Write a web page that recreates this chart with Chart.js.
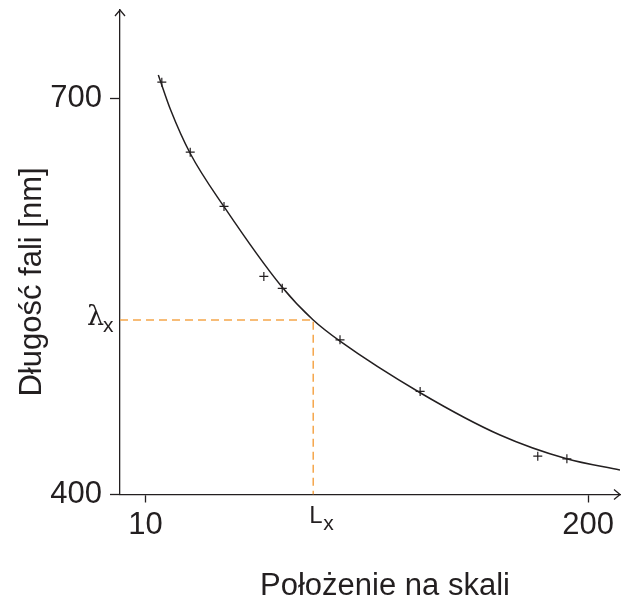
<!DOCTYPE html>
<html>
<head>
<meta charset="utf-8">
<script src="https://cdn.jsdelivr.net/npm/chart.js@4.4.0/dist/chart.umd.min.js"></script>
<style>
html, body { margin: 0; padding: 0; background: #fff; }
#wrap { width: 629px; height: 598px; }
</style>
</head>
<body>
<div id="wrap"><canvas id="chart"></canvas></div>
<script>
// values
const xTicks = [10, 200];
const yTicks = [400, 700];
const xMin = -0.95, xMax = 213.7;
const yMin = 400, yMax = 766.6;

const pointsX = [17.0, 29.2, 43.7, 60.8, 68.7, 93.5, 127.9, 178.4, 190.9];
const pointsY = [712, 659, 618, 565, 556, 517, 478, 429, 427];

const curveX = [15.5, 20.8, 29.1, 43.7, 68.5, 82.0, 93.5, 127.9, 162.2, 190.8, 213.7];
const curveY = [717.4, 690.9, 658.4, 617.8, 557.2, 532.0, 516.0, 477.0, 445.0, 427.0, 418.5];

const lx = 82.0;
const lambdaX = 532.0;

const ink = '#231f20';
const orange = '#f5a64b';
const font = '"Liberation Sans", Arial, sans-serif';

const zip = (xs, ys) => xs.map((v, i) => ({ x: v, y: ys[i] }));

const extras = {
	id: 'extras',
	afterDraw(chart) {
		const { ctx, chartArea: a, scales: { x, y } } = chart;
		ctx.save();
		ctx.strokeStyle = ink;
		ctx.lineWidth = 1.3;
		ctx.beginPath();
		ctx.moveTo(a.left - 5, a.top + 6);
		ctx.lineTo(a.left, a.top);
		ctx.lineTo(a.left + 5, a.top + 6);
		ctx.moveTo(a.right - 6, a.bottom - 5);
		ctx.lineTo(a.right, a.bottom);
		ctx.lineTo(a.right - 6, a.bottom + 5);
		ctx.stroke();

		ctx.fillStyle = ink;
		ctx.textBaseline = 'alphabetic';

		// lambda_x label
		const ly = y.getPixelForValue(lambdaX);
		ctx.font = '27px "DejaVu Serif", serif';
		ctx.textAlign = 'right';
		ctx.fillText('λ', a.left - 16, ly + 5);
		ctx.font = '21px ' + font;
		ctx.textAlign = 'left';
		ctx.fillText('x', a.left - 17, ly + 12);

		// L_x label
		const lxp = x.getPixelForValue(lx);
		ctx.font = '24px ' + font;
		ctx.textAlign = 'left';
		ctx.fillText('L', lxp - 4, 523);
		ctx.font = '21px ' + font;
		ctx.fillText('x', lxp + 10, 530);

		// axis titles
		ctx.font = '31px ' + font;
		ctx.textAlign = 'center';
		ctx.fillText('Położenie na skali', 385, 595);
		ctx.save();
		ctx.translate(41, 282);
		ctx.rotate(-Math.PI / 2);
		ctx.fillText('Długość fali [nm]', 0, 0);
		ctx.restore();
		ctx.restore();
	}
};

new Chart(document.getElementById('chart'), {
	type: 'scatter',
	data: {
		datasets: [
			{
				data: [{ x: xMin, y: lambdaX }, { x: lx, y: lambdaX }, { x: lx, y: yMin }],
				showLine: true,
				borderColor: orange,
				borderWidth: 1.5,
				borderDash: [8, 5],
				pointRadius: 0,
				tension: 0,
			},
			{
				data: zip(curveX, curveY),
				showLine: true,
				borderColor: ink,
				borderWidth: 1.5,
				pointRadius: 0,
				cubicInterpolationMode: 'monotone',
			},
			{
				data: zip(pointsX, pointsY),
				pointStyle: 'cross',
				pointRadius: 4.5,
				borderColor: ink,
				borderWidth: 1.2,
				backgroundColor: ink,
			},
		],
	},
	options: {
		responsive: true,
		maintainAspectRatio: false,
		animation: false,
		layout: { padding: { top: 10, right: 9, left: 0, bottom: 0 } },
		plugins: {
			legend: { display: false },
			tooltip: { enabled: false },
		},
		scales: {
			x: {
				type: 'linear',
				min: xMin,
				max: xMax,
				afterBuildTicks: s => { s.ticks = xTicks.map(v => ({ value: v })); },
				afterFit: s => { s.height = 103.5; s.paddingLeft = 0; s.paddingRight = 0; },
				grid: { drawOnChartArea: false, drawTicks: true, tickLength: 8, tickColor: ink, tickWidth: 1.3 },
				border: { display: true, color: ink, width: 1.3 },
				ticks: { color: ink, font: { family: font, size: 31 }, padding: 4, maxRotation: 0 },
			},
			y: {
				type: 'linear',
				min: yMin,
				max: yMax,
				afterBuildTicks: s => { s.ticks = yTicks.map(v => ({ value: v })); },
				afterFit: s => { s.width = 120; s.paddingTop = 0; s.paddingBottom = 0; },
				grid: { drawOnChartArea: false, drawTicks: true, tickLength: 10, tickColor: ink, tickWidth: 1.3 },
				border: { display: true, color: ink, width: 1.3 },
				ticks: { color: ink, font: { family: font, size: 31 }, padding: 8 },
			},
		},
	},
	plugins: [extras],
});
</script>
</body>
</html>
